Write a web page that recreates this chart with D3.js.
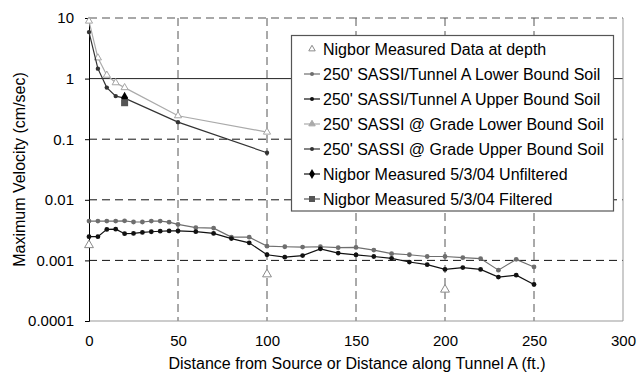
<!DOCTYPE html>
<html>
<head>
<meta charset="utf-8">
<script src="https://cdn.jsdelivr.net/npm/d3@7"></script>
<style>
  html, body { margin: 0; padding: 0; background: #fff; }
  svg { display: block; font-family: "Liberation Sans", Arial, sans-serif; }
</style>
</head>
<body>
<svg id="chart" width="637" height="375"></svg>
<script>
// Distances (ft) for the SASSI tunnel runs
const tunnelDist = [0, 5, 10, 15, 20, 25, 30, 35, 40, 45, 50, 60, 70, 80, 90, 100, 110, 120, 130,
                    140, 150, 160, 170, 180, 190, 200, 210, 220, 230, 240, 250];
const tunnelLower = [0.00446, 0.00446, 0.00446, 0.00446, 0.0045, 0.0043, 0.0043, 0.00446, 0.00446, 0.00428, 0.00393,
                     0.00347, 0.00341, 0.00242, 0.00242, 0.00172, 0.00168, 0.00166, 0.00168,
                     0.00162, 0.00164, 0.00148, 0.00129, 0.00124, 0.00116, 0.00116, 0.00111, 0.00107, 0.00069, 0.00104, 0.00078];
const tunnelUpper = [0.00246, 0.00246, 0.00325, 0.00328, 0.00276, 0.00279, 0.0029, 0.00297, 0.00303, 0.00307, 0.00307,
                     0.00298, 0.00279, 0.00229, 0.00195, 0.00124, 0.00113, 0.0012, 0.00155,
                     0.00132, 0.00123, 0.00116, 0.00108, 0.00094, 0.00085, 0.00071, 0.00076, 0.00071, 0.00053, 0.00057, 0.0004];

// Surface (at grade) runs
const gradeDist = [0, 5, 10, 15, 20, 50, 100];
const gradeLower = [8.9, 2.2, 1.14, 0.855, 0.71, 0.244, 0.131];
const gradeUpper = [5.85, 1.46, 0.71, 0.514, 0.477, 0.191, 0.0598];

// Field measurements
const depthDist = [0, 100, 200];
const depthVel = [0.00179, 0.00059, 0.00033];
const unfilteredDist = [20];
const unfilteredVel = [0.48];
const filteredDist = [20];
const filteredVel = [0.40];

const xTicks = [0, 50, 100, 150, 200, 250, 300];
const yTicks = [0.0001, 0.001, 0.01, 0.1, 1, 10];
const yTickLabels = ["0.0001", "0.001", "0.01", "0.1", "1", "10"];

const legendLabels = [
  "Nigbor Measured Data at depth",
  "250' SASSI/Tunnel A Lower Bound Soil",
  "250' SASSI/Tunnel A Upper Bound Soil",
  "250' SASSI @ Grade Lower Bound Soil",
  "250' SASSI @ Grade Upper Bound Soil",
  "Nigbor Measured 5/3/04 Unfiltered",
  "Nigbor Measured 5/3/04 Filtered"
];

const svg = d3.select("#chart");
const plotL = 89, plotR = 623, plotT = 18, plotB = 321;
const fontFam = "'Liberation Sans', Arial, sans-serif";

const x = d3.scaleLinear().domain([0, 300]).range([plotL, plotR]);
const y = d3.scaleLog().domain([0.0001, 10]).range([plotB, plotT]);

// Gridlines
const grid = svg.append("g");
grid.selectAll("line.hx").data(yTicks.filter(v => v > 0.0001)).enter().append("line")
  .attr("x1", plotL).attr("x2", plotR)
  .attr("y1", d => y(d)).attr("y2", d => y(d))
  .attr("stroke", d => d === 10 ? "#8c8c8c" : (d === 1 ? "#222" : "#111"))
  .attr("stroke-width", d => d === 10 ? 1.6 : 1)
  .attr("stroke-dasharray", d => d === 1 ? null : "8,5");
grid.selectAll("line.vx").data(xTicks.filter(v => v > 0 && v < 300)).enter().append("line")
  .attr("x1", d => x(d)).attr("x2", d => x(d))
  .attr("y1", plotT).attr("y2", plotB)
  .attr("stroke", "#555").attr("stroke-dasharray", "8,5");
// plot frame (right and bottom)
svg.append("line").attr("x1", x(300)).attr("x2", x(300)).attr("y1", plotT).attr("y2", plotB)
  .attr("stroke", "#999");
svg.append("line").attr("x1", plotL).attr("x2", plotR).attr("y1", plotB).attr("y2", plotB)
  .attr("stroke", "#999");

// Y axis
const yAxis = d3.axisLeft(y).tickValues(yTicks).tickFormat((d, i) => yTickLabels[i]).tickSize(4).tickPadding(11);
const gy = svg.append("g").attr("transform", `translate(${plotL},0)`).call(yAxis);
gy.select(".domain").attr("stroke", "#000");
gy.selectAll("line").attr("stroke", "#000");
gy.selectAll("text").attr("font-size", 15).attr("fill", "#000").attr("font-family", fontFam);

// X axis labels
const xAxis = d3.axisBottom(x).tickValues(xTicks).tickFormat(d3.format("d")).tickSize(0).tickPadding(14);
const gx = svg.append("g").attr("transform", `translate(0,${plotB})`).call(xAxis);
gx.select(".domain").remove();
gx.selectAll("text").attr("font-size", 15).attr("fill", "#000").attr("font-family", fontFam);

// Axis titles
svg.append("text").attr("x", 357).attr("y", 369)
  .attr("text-anchor", "middle").attr("font-size", 16)
  .text("Distance from Source or Distance along Tunnel A (ft.)");
svg.append("text").attr("transform", "translate(25,169.5) rotate(-90)")
  .attr("text-anchor", "middle").attr("font-size", 16)
  .text("Maximum Velocity (cm/sec)");

const line = d3.line().x(d => x(d[0])).y(d => y(d[1]));
const zip = (a, b) => a.map((v, i) => [v, b[i]]);
const tri = d3.symbol().type(d3.symbolTriangle);

// Grade lower (light gray, open triangles)
const gl = zip(gradeDist, gradeLower);
svg.append("path").attr("d", line(gl)).attr("fill", "none").attr("stroke", "#aaa").attr("stroke-width", 1.2);
svg.selectAll("path.glm").data(gl).enter().append("path")
  .attr("d", tri.size(22)()).attr("transform", d => `translate(${x(d[0])},${y(d[1])})`)
  .attr("fill", "#fff").attr("stroke", "#a5a5a5").attr("stroke-width", 1);

// Grade upper (dark gray, small dots)
const gu = zip(gradeDist, gradeUpper);
svg.append("path").attr("d", line(gu)).attr("fill", "none").attr("stroke", "#333").attr("stroke-width", 1.2);
svg.selectAll("circle.gum").data(gu).enter().append("circle")
  .attr("cx", d => x(d[0])).attr("cy", d => y(d[1])).attr("r", 2.2).attr("fill", "#333");

// Tunnel lower (medium gray)
const tl = zip(tunnelDist, tunnelLower);
svg.append("path").attr("d", line(tl)).attr("fill", "none").attr("stroke", "#6e6e6e").attr("stroke-width", 1.2);
svg.selectAll("circle.tlm").data(tl).enter().append("circle")
  .attr("cx", d => x(d[0])).attr("cy", d => y(d[1])).attr("r", 2.4).attr("fill", "#6e6e6e");

// Tunnel upper (black)
const tu = zip(tunnelDist, tunnelUpper);
svg.append("path").attr("d", line(tu)).attr("fill", "none").attr("stroke", "#111").attr("stroke-width", 1.2);
svg.selectAll("circle.tum").data(tu).enter().append("circle")
  .attr("cx", d => x(d[0])).attr("cy", d => y(d[1])).attr("r", 2.4).attr("fill", "#111");

// Measured at depth (open triangles)
svg.selectAll("path.dm").data(zip(depthDist, depthVel)).enter().append("path")
  .attr("d", tri.size(34)()).attr("transform", d => `translate(${x(d[0])},${y(d[1])})`)
  .attr("fill", "#fff").attr("stroke", "#8a8a8a").attr("stroke-width", 1);

// Measured unfiltered (black diamond) and filtered (gray square)
svg.selectAll("path.um").data(zip(unfilteredDist, unfilteredVel)).enter().append("path")
  .attr("d", d3.symbol().type(d3.symbolDiamond).size(45)()).attr("transform", d => `translate(${x(d[0])},${y(d[1])})`)
  .attr("fill", "#000");
svg.selectAll("rect.fm").data(zip(filteredDist, filteredVel)).enter().append("rect")
  .attr("x", d => x(d[0]) - 3.5).attr("y", d => y(d[1]) - 3.5).attr("width", 7).attr("height", 7)
  .attr("fill", "#555");

// Legend
const lg = svg.append("g");
lg.append("rect").attr("x", 291.5).attr("y", 35.5).attr("width", 322).attr("height", 175.5)
  .attr("fill", "#fff").attr("stroke", "#555").attr("stroke-width", 1.2);
const rowY = i => 49 + i * 25;
const styles = [
  { line: null, color: "#8a8a8a", mark: "tri" },
  { line: "#6e6e6e", color: "#6e6e6e", mark: "dot" },
  { line: "#111", color: "#111", mark: "dot" },
  { line: "#aaa", color: "#aaa", mark: "tri" },
  { line: "#333", color: "#333", mark: "dot" },
  { line: "#111", color: "#000", mark: "diamond" },
  { line: "#555", color: "#555", mark: "square" }
];
legendLabels.forEach((lab, i) => {
  const s = styles[i], cy = rowY(i), cx = 312;
  if (s.line) lg.append("line").attr("x1", 304).attr("x2", 320).attr("y1", cy).attr("y2", cy)
    .attr("stroke", s.line).attr("stroke-width", 1.2);
  if (s.mark === "tri") lg.append("path").attr("d", tri.size(18)()).attr("transform", `translate(${cx},${cy})`)
    .attr("fill", i === 0 ? "#fff" : "#aaa").attr("stroke", s.color);
  if (s.mark === "dot") lg.append("circle").attr("cx", cx).attr("cy", cy).attr("r", 2).attr("fill", s.color);
  if (s.mark === "diamond") lg.append("path").attr("d", d3.symbol().type(d3.symbolDiamond).size(30)())
    .attr("transform", `translate(${cx},${cy})`).attr("fill", s.color);
  if (s.mark === "square") lg.append("rect").attr("x", cx - 3).attr("y", cy - 3).attr("width", 6).attr("height", 6).attr("fill", s.color);
  lg.append("text").attr("x", 323).attr("y", cy).attr("dy", "0.35em").attr("font-size", 16).attr("fill", "#000").text(lab);
});
</script>
</body>
</html>
